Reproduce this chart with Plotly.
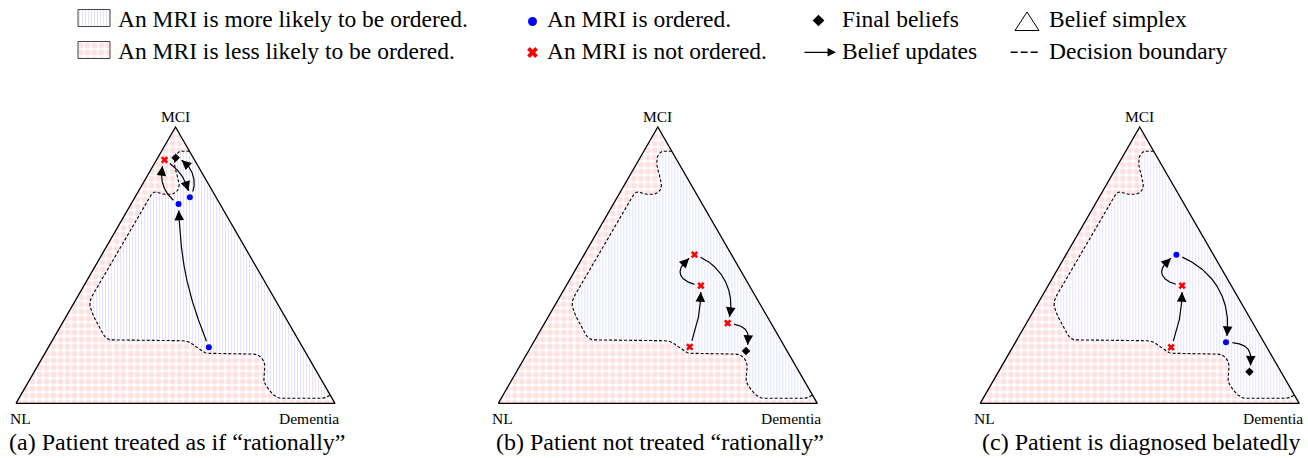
import numpy as np
import plotly.graph_objects as go

W, H = 1308, 458
R3 = np.sqrt(3) / 2

# ---------------- data ----------------
captions = ["(a) Patient treated as if \u201crationally\u201d",
            "(b) Patient not treated \u201crationally\u201d",
            "(c) Patient is diagnosed belatedly"]
vertex_labels = ["NL", "MCI", "Dementia"]

# beliefs along each trajectory as (P(MCI), P(Dementia)); P(NL) = 1 - both
a_mci = [0.203, 0.721, 0.881, 0.746, 0.889]
a_dem = [0.503, 0.149, 0.025, 0.172, 0.056]
a_act = ["MRI", "MRI", "noMRI", "MRI", "final"]

b_mci = [0.204, 0.426, 0.538, 0.290, 0.189]
b_dem = [0.498, 0.422, 0.346, 0.574, 0.682]
b_act = ["noMRI", "noMRI", "noMRI", "noMRI", "final"]

c_mci = [0.203, 0.426, 0.538, 0.221, 0.114]
c_dem = [0.497, 0.420, 0.346, 0.660, 0.787]
c_act = ["noMRI", "noMRI", "MRI", "MRI", "final"]

# decision boundary traced in the simplex plane (x: NL->Dementia, y: towards MCI)
boundary_x = [0.544, 0.513, 0.497, 0.497, 0.508, 0.513, 0.497, 0.466, 0.435, 0.424,
              0.235, 0.230, 0.241, 0.283, 0.539, 0.570, 0.592, 0.759, 0.780, 0.780,
              0.775, 0.801, 0.821, 0.968, 0.985]
boundary_y = [0.790, 0.792, 0.774, 0.743, 0.706, 0.675, 0.656, 0.654, 0.664, 0.654,
              0.330, 0.309, 0.277, 0.199, 0.196, 0.173, 0.157, 0.154, 0.131, 0.099,
              0.068, 0.031, 0.016, 0.016, 0.026]

legend_texts = ["An MRI is more likely to be ordered.", "An MRI is less likely to be ordered.",
                "An MRI is ordered.", "An MRI is not ordered.",
                "Final beliefs", "Belief updates", "Belief simplex", "Decision boundary"]

# ---------------- style ----------------
arrow_bend = [[10, 40, 24, -56], [-10, 70, 45, 50], [-10, 70, 40, 50]]
arrow_loose = [[0.4, 0.4, 0.4, 0.4], [0.4, 0.8, 0.4, 0.6], [0.4, 0.8, 0.41, 0.6]]
FONT = "Times New Roman, Liberation Serif, DejaVu Serif, serif"
S = 319.0
BASE = 403.3
PAD = 0.025
lefts = [16.0, 498.3, 980.2]
BLUE = "#0000ff"
RED = "#ff0000"
RED_PAT = dict(shape=".", fgcolor="#ffc4c4", bgcolor="white", size=7, solidity=0.55)
BLUE_PAT = dict(shape="|", fgcolor="#c8c8ff", bgcolor="white", size=3, solidity=0.35)


def to_xy(mci, dem):
    mci = np.asarray(mci); dem = np.asarray(dem)
    return dem + 0.5 * mci, R3 * mci


def round_poly(pts, r=0.018, n=10):
    pts = np.asarray(pts, dtype=float)
    out = [pts[0]]
    for i in range(1, len(pts) - 1):
        p0, p1, p2 = pts[i - 1], pts[i], pts[i + 1]
        v0, v2 = p0 - p1, p2 - p1
        l0, l2 = np.linalg.norm(v0), np.linalg.norm(v2)
        rr = min(r, 0.45 * l0, 0.45 * l2)
        a = p1 + v0 / l0 * rr
        b = p1 + v2 / l2 * rr
        for t in np.linspace(0, 1, n):
            out.append((1 - t) ** 2 * a + 2 * (1 - t) * t * p1 + t ** 2 * b)
    out.append(pts[-1])
    return np.array(out)


def rot(v, a):
    return np.array([v[0] * np.cos(a) - v[1] * np.sin(a), v[0] * np.sin(a) + v[1] * np.cos(a)])


def curve(p0, p1, theta, k, gap0=0.02, gap1=0.02):
    p0 = np.array(p0); p1 = np.array(p1)
    d = p1 - p0; L = np.linalg.norm(d); u = d / L
    th = np.radians(theta)
    c1 = p0 + k * L * rot(u, th)
    c2 = p1 - k * L * rot(u, -th)
    t = np.linspace(0, 1, 400)[:, None]
    B = (1 - t) ** 3 * p0 + 3 * (1 - t) ** 2 * t * c1 + 3 * (1 - t) * t ** 2 * c2 + t ** 3 * p1
    seg = np.linalg.norm(np.diff(B, axis=0), axis=1)
    s = np.concatenate([[0], np.cumsum(seg)])
    m = (s >= gap0) & (s <= s[-1] - gap1)
    return B[m], s[m]


fig = go.Figure()
annotations = []
shapes = []

tri_x = [0, 1, 0.5, 0]
tri_y = [0, 0, R3, 0]
bpts = round_poly(np.column_stack([boundary_x, boundary_y]))

panels = [(a_mci, a_dem, a_act), (b_mci, b_dem, b_act), (c_mci, c_dem, c_act)]
layout_axes = {}
for i, (mci, dem, act) in enumerate(panels):
    sfx = "" if i == 0 else str(i + 1)
    xr, yr = "x" + sfx, "y" + sfx
    left = lefts[i]
    layout_axes["xaxis" + sfx] = dict(domain=[(left - PAD * S) / W, (left + (1 + PAD) * S) / W],
                                      range=[-PAD, 1 + PAD], visible=False, fixedrange=True,
                                      anchor=yr)
    layout_axes["yaxis" + sfx] = dict(domain=[1 - (BASE + PAD * S) / H, 1 - (BASE - (R3 + PAD) * S) / H],
                                      range=[-PAD, R3 + PAD], visible=False, fixedrange=True,
                                      anchor=xr)
    common = dict(xaxis=xr, yaxis=yr, hoverinfo="skip", showlegend=False)
    # less likely region (whole simplex)
    fig.add_trace(go.Scatter(x=tri_x, y=tri_y, mode="lines", fill="toself",
                             fillcolor="white", fillpattern=RED_PAT,
                             line=dict(width=0, color="rgba(0,0,0,0)"), **common))
    # more likely region
    fig.add_trace(go.Scatter(x=bpts[:, 0], y=bpts[:, 1], mode="lines", fill="toself",
                             fillcolor="white", fillpattern=BLUE_PAT,
                             line=dict(width=0, color="rgba(0,0,0,0)"), **common))
    # decision boundary
    fig.add_trace(go.Scatter(x=bpts[:, 0], y=bpts[:, 1], mode="lines",
                             line=dict(color="black", width=1.1, dash="3px,2px"), **common))
    # simplex outline
    fig.add_trace(go.Scatter(x=tri_x, y=tri_y, mode="lines",
                             line=dict(color="black", width=1.3), **common))
    # belief updates
    px, py = to_xy(mci, dem)
    for j in range(len(px) - 1):
        C, s = curve((px[j], py[j]), (px[j + 1], py[j + 1]), arrow_bend[i][j], arrow_loose[i][j])
        fig.add_trace(go.Scatter(x=C[:, 0], y=C[:, 1], mode="lines",
                                 line=dict(color="black", width=1.2), **common))
        back = np.searchsorted(s, s[-1] - 0.028)
        annotations.append(dict(x=C[-1, 0], y=C[-1, 1], ax=C[back, 0], ay=C[back, 1],
                                xref=xr, yref=yr, axref=xr, ayref=yr, text="",
                                showarrow=True, arrowhead=2, arrowsize=1.6, arrowwidth=1.2,
                                arrowcolor="black", standoff=0))
    act = np.array(act)
    for kind, sym, col, size in [("MRI", "circle", BLUE, 6), ("noMRI", "x", RED, 6.5),
                                 ("final", "diamond", "black", 6.5)]:
        m = act == kind
        if m.any():
            fig.add_trace(go.Scatter(x=px[m], y=py[m], mode="markers",
                                     marker=dict(symbol=sym, color=col, size=size,
                                                 line=dict(width=0)), **common))
    # vertex labels
    cx = left + S / 2
    lab_font = dict(family=FONT, size=15.5, color="black")
    annotations.append(dict(x=cx / W, y=1 - 116.7 / H, xref="paper", yref="paper",
                            text=vertex_labels[1], showarrow=False, xanchor="center", yanchor="middle",
                            font=lab_font))
    annotations.append(dict(x=(left + 4) / W, y=1 - 418 / H, xref="paper", yref="paper",
                            text=vertex_labels[0], showarrow=False, xanchor="center", yanchor="middle",
                            font=lab_font))
    annotations.append(dict(x=(left + S - 26) / W, y=1 - 418 / H, xref="paper", yref="paper",
                            text=vertex_labels[2], showarrow=False, xanchor="center", yanchor="middle",
                            font=lab_font))
    annotations.append(dict(x=(cx + 2) / W, y=1 - 442 / H, xref="paper", yref="paper",
                            text=captions[i], showarrow=False, xanchor="center", yanchor="middle",
                            font=dict(family=FONT, size=24, color="black")))

# ---------------- custom legend (overlay axis in pixel units) ----------------
layout_axes["xaxis4"] = dict(domain=[0, 1], range=[0, W], visible=False, fixedrange=True, anchor="y4")
layout_axes["yaxis4"] = dict(domain=[0, 1], range=[H, 0], visible=False, fixedrange=True, anchor="x4")
lc = dict(xaxis="x4", yaxis="y4", hoverinfo="skip", showlegend=False)
fig.add_trace(go.Scatter(x=[78, 110, 110, 78, 78], y=[9.5, 9.5, 26.5, 26.5, 9.5], mode="lines",
                         fill="toself", fillcolor="white", fillpattern=BLUE_PAT,
                         line=dict(color="#444", width=1), **lc))
fig.add_trace(go.Scatter(x=[78, 110, 110, 78, 78], y=[41.5, 41.5, 58.5, 58.5, 41.5], mode="lines",
                         fill="toself", fillcolor="white", fillpattern=RED_PAT,
                         line=dict(color="#444", width=1), **lc))
fig.add_trace(go.Scatter(x=[532.5], y=[21.5], mode="markers",
                         marker=dict(symbol="circle", color=BLUE, size=9, line=dict(width=0)), **lc))
fig.add_trace(go.Scatter(x=[532.5], y=[52.5], mode="markers",
                         marker=dict(symbol="x", color=RED, size=9.5, line=dict(width=0)), **lc))
fig.add_trace(go.Scatter(x=[818.5], y=[20.5], mode="markers",
                         marker=dict(symbol="diamond", color="black", size=9, line=dict(width=0)), **lc))
fig.add_trace(go.Scatter(x=[1015, 1039, 1027, 1015], y=[30.5, 30.5, 12, 30.5], mode="lines",
                         line=dict(color="black", width=1), **lc))
shapes.append(dict(type="line", xref="x4", yref="y4", x0=1010.7, x1=1039.5, y0=52.3, y1=52.3,
                   line=dict(color="black", width=1.4, dash="7px,3px")))
annotations.append(dict(x=836 / W, y=1 - 52.3 / H, xref="paper", yref="paper", ax=-33, ay=0,
                        text="", showarrow=True, arrowhead=2, arrowsize=1.3, arrowwidth=1.3,
                        arrowcolor="black", standoff=0))

leg_pos = [(116, 19), (116, 50.5), (545, 19), (545, 50.5), (840, 19), (840, 50.5), (1047, 19), (1047, 50.5)]
for txt, (lx, ly) in zip(legend_texts, leg_pos):
    annotations.append(dict(x=lx / W, y=1 - ly / H, xref="paper", yref="paper", text=txt,
                            showarrow=False, xanchor="left", yanchor="middle",
                            font=dict(family=FONT, size=23.5, color="black")))

fig.update_layout(width=W, height=H, margin=dict(l=0, r=0, t=0, b=0),
                  paper_bgcolor="white", plot_bgcolor="rgba(0,0,0,0)",
                  showlegend=False, annotations=annotations, shapes=shapes, **layout_axes)

fig.write_html("out.html", config={"displayModeBar": False, "staticPlot": True},
               post_script="document.body.style.margin='0';document.body.style.padding='0';"
                           "document.body.style.overflow='hidden';")
